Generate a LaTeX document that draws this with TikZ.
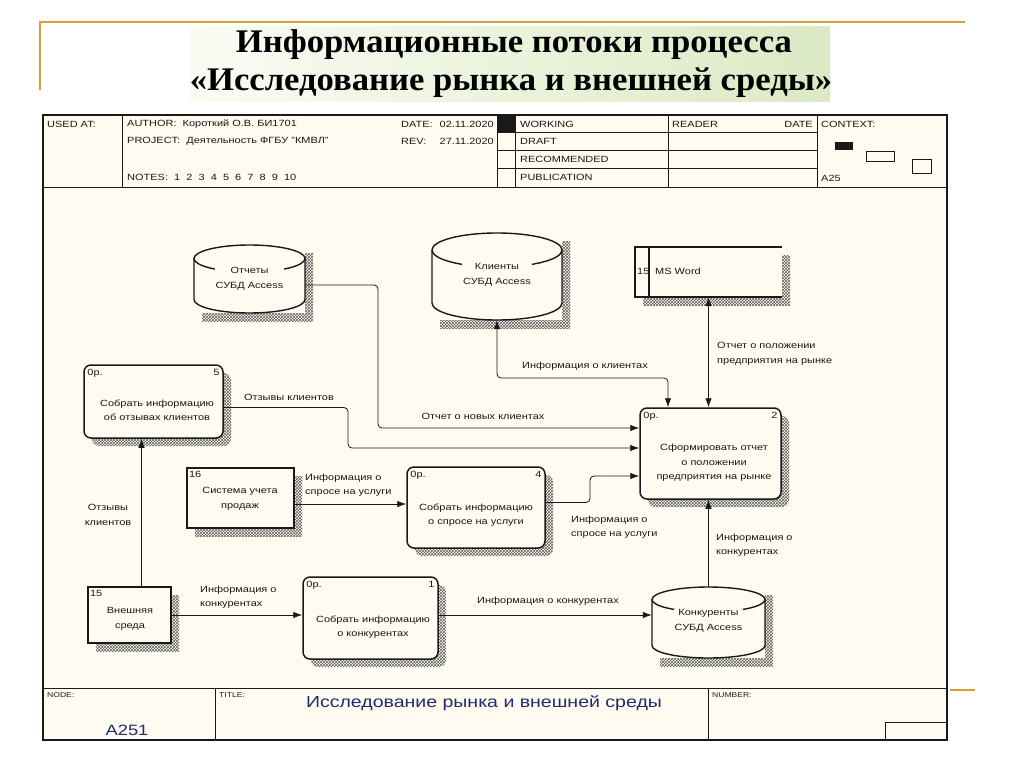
\documentclass[tikz,border=0pt]{standalone}
\usepackage{fontspec}
\setmainfont{Liberation Sans}[FakeStretch=1.22]
\newfontfamily\titlefont{Liberation Serif}[FakeStretch=1.05]
\usetikzlibrary{arrows.meta,shadows,patterns}
\definecolor{paper}{RGB}{255,251,240}
\definecolor{gold}{RGB}{214,160,48}
\definecolor{bandLeft}{RGB}{250,252,244}
\definecolor{bandRight}{RGB}{220,233,196}
\definecolor{inkNavy}{RGB}{32,44,112}
\definecolor{hatch}{RGB}{95,95,95}
\definecolor{ink}{RGB}{25,25,25}

\tikzset{
  shadowed/.style={general shadow={shadow xshift=8pt, shadow yshift=-8pt, pattern=crosshatch, pattern color=hatch}},
  proc/.style={draw=ink, line width=1.5pt, rounded corners=7pt, fill=paper, inner sep=0pt, shadowed},
  ext/.style={draw=ink, line width=2.2pt, fill=paper, inner sep=0pt, shadowed},
  storebox/.style={fill=paper, inner sep=0pt, shadowed},
  cylline/.style={draw=ink, line width=1.4pt},
  grid/.style={draw=ink, line width=0.8pt},
  lbl/.style={font=\fontsize{9}{14.5}\selectfont, inner sep=0pt, text=ink},
  tag/.style={font=\fontsize{9}{10}\selectfont, inner sep=0pt, text=ink},
  head/.style={font=\fontsize{9}{10}\selectfont, inner sep=0pt, anchor=west, text=ink},
  foot/.style={font=\fontsize{7}{8}\selectfont, inner sep=0pt, anchor=west, text=ink},
  titletext/.style={font=\titlefont\bfseries\fontsize{33}{38}\selectfont, inner sep=0pt},
  flow/.style={-{Latex[length=9pt,width=6.5pt]}, draw=ink, line width=0.8pt, rounded corners=4pt},
  twoway/.style={{Latex[length=9pt,width=6.5pt]}-{Latex[length=9pt,width=6.5pt]}, draw=ink, line width=0.8pt, rounded corners=4pt}
}

\newcommand{\dbcyl}[5]{%
  \pgfmathsetmacro{\cylcx}{(#1+#3)/2}%
  \pgfmathsetmacro{\cylrx}{(#3-#1)/2}%
  \draw[cylline] (#1,#2+#5) -- (#1,#4-#5) arc[start angle=180, end angle=360, x radius=\cylrx pt, y radius=#5pt] -- (#3,#2+#5);
  \draw[cylline] (\cylcx,#2+#5) ellipse[x radius=\cylrx pt, y radius=#5pt];
}

\begin{document}
\begin{tikzpicture}[x=1pt, y=-1pt]
  \useasboundingbox (0,0) rectangle (1024,767);
  \fill[white] (0,0) rectangle (1024,767);

  % slide
  \draw[gold, line width=1.6pt] (40,90) -- (40,22) -- (965,22);
  \draw[gold, line width=1.6pt] (950,690) -- (975,690);
  \shade[left color=bandLeft, right color=bandRight] (190,27) rectangle (830,102);
  \node[titletext] (title1) at (514,45) {Информационные потоки процесса};
  \node[titletext] (title2) at (511,83) {«Исследование рынка и внешней среды»};

  % form
  \filldraw[fill=paper, draw=ink, line width=1.2pt] (43,115) rectangle (947,740);
  \draw[grid] (43,187) -- (947,187);
  \draw[grid] (43,688) -- (947,688);
  \draw[grid] (122,115) -- (122,187);
  \foreach \x in {497,515,668,817} \draw[grid] (\x,115) -- (\x,187);
  \foreach \y in {132,150,168} \draw[grid] (497,\y) -- (817,\y);
  \fill[ink] (497,115) rectangle (515,132);
  \draw[grid] (215,688) -- (215,740);
  \draw[grid] (708,688) -- (708,740);
  \draw[grid] (885,740) -- (885,722) -- (947,722);
  \fill[ink] (835,142) rectangle (853,150);
  \draw[grid] (866,151) rectangle (894,161);
  \draw[grid] (912,159) rectangle (931,173);

  \node[head] (usedAt) at (47,124) {USED AT:};
  \node[head] (author) at (127,124) {AUTHOR:\ \ Короткий О.В. БИ1701};
  \node[head] (project) at (127,141) {PROJECT:\ \ Деятельность ФГБУ "КМВЛ"};
  \node[head] (notes) at (127,177) {NOTES:\ \ 1\ \ 2\ \ 3\ \ 4\ \ 5\ \ 6\ \ 7\ \ 8\ \ 9\ \ 10};
  \node[head] (dateLbl) at (401,124) {DATE:};
  \node[head, anchor=east] (dateVal) at (494,124) {02.11.2020};
  \node[head] (revLbl) at (401,141) {REV:};
  \node[head, anchor=east] (revVal) at (494,141) {27.11.2020};
  \node[head] (working) at (520,124) {WORKING};
  \node[head] (draft) at (520,141) {DRAFT};
  \node[head] (recommended) at (520,159) {RECOMMENDED};
  \node[head] (publication) at (520,177) {PUBLICATION};
  \node[head] (reader) at (672,124) {READER};
  \node[head, anchor=east] (readerDate) at (813,124) {DATE};
  \node[head] (context) at (821,124) {CONTEXT:};
  \node[head] (ctxNode) at (821,178) {A25};

  \node[foot] (nodeLbl) at (47,695) {NODE:};
  \node[foot] (titleLbl) at (219,695) {TITLE:};
  \node[foot] (numberLbl) at (712,695) {NUMBER:};
  \node[font=\fontsize{15}{17}\selectfont, text=inkNavy, inner sep=0pt] (nodeVal) at (127,730) {A251};
  \node[font=\fontsize{16}{18}\selectfont, text=inkNavy, inner sep=0pt] (titleVal) at (484,703) {Исследование рынка и внешней среды};

  % data stores
  \node[storebox, minimum width=111pt, minimum height=68pt] (otch) at (249.5,279) {};
  \dbcyl{194}{245}{305}{313}{13.5}
  \node[lbl, align=center, fill=paper, inner sep=1pt] (otchT) at (249.5,279) {Отчеты\\СУБД Access};

  \node[storebox, minimum width=130pt, minimum height=87pt] (kl) at (497,276.5) {};
  \dbcyl{432}{233}{562}{320}{17}
  \node[lbl, align=center, fill=paper, inner sep=1pt] (klT) at (497,275) {Клиенты\\СУБД Access};

  \node[storebox, minimum width=113pt, minimum height=71pt] (konk) at (708.5,622.5) {};
  \dbcyl{652}{587}{765}{658}{12.5}
  \node[lbl, align=center, fill=paper, inner sep=1pt] (konkT) at (708.5,621) {Конкуренты\\СУБД Access};

  \node[storebox, minimum width=147pt, minimum height=50pt] (ms) at (708.5,272) {};
  \draw[cylline] (782,247) -- (635,247) -- (635,297) -- (782,297);
  \draw[cylline] (649,247) -- (649,297);
  \node[tag, anchor=west] (msNum) at (637,271) {15};
  \node[tag, anchor=west] (msT) at (655,271) {MS Word};

  % activities
  \node[proc, minimum width=139pt, minimum height=73pt] (b5) at (153.5,401.5) {};
  \node[lbl, align=center] (b5T) at (157,410) {Собрать информацию\\об отзывах клиентов};
  \node[tag, anchor=north west] (b5c) at ([shift={(4pt,-5pt)}]b5.north west) {0р.};
  \node[tag, anchor=north east] (b5n) at ([shift={(-4pt,-5pt)}]b5.north east) {5};

  \node[proc, minimum width=141pt, minimum height=91pt] (b2) at (710.5,453.5) {};
  \node[lbl, align=center] (b2T) at (714,463) {Сформировать отчет\\о положении\\предприятия на рынке};
  \node[tag, anchor=north west] (b2c) at ([shift={(4pt,-5pt)}]b2.north west) {0р.};
  \node[tag, anchor=north east] (b2n) at ([shift={(-4pt,-5pt)}]b2.north east) {2};

  \node[proc, minimum width=138pt, minimum height=81pt] (b4) at (476,507.5) {};
  \node[lbl, align=center] (b4T) at (476,515) {Собрать информацию\\о спросе на услуги};
  \node[tag, anchor=north west] (b4c) at ([shift={(4pt,-5pt)}]b4.north west) {0р.};
  \node[tag, anchor=north east] (b4n) at ([shift={(-4pt,-5pt)}]b4.north east) {4};

  \node[proc, minimum width=135pt, minimum height=82pt] (b1) at (370.5,618) {};
  \node[lbl, align=center] (b1T) at (373,627) {Собрать информацию\\о конкурентах};
  \node[tag, anchor=north west] (b1c) at ([shift={(4pt,-5pt)}]b1.north west) {0р.};
  \node[tag, anchor=north east] (b1n) at ([shift={(-4pt,-5pt)}]b1.north east) {1};

  % external entities
  \node[ext, minimum width=107pt, minimum height=60pt] (e16) at (240.5,498) {};
  \node[tag, anchor=north west] (e16n) at ([shift={(3pt,-4pt)}]e16.north west) {16};
  \node[lbl, align=center] (e16T) at (240,499) {Система учета\\продаж};

  \node[ext, minimum width=83pt, minimum height=56pt] (e15) at (129.5,615) {};
  \node[tag, anchor=north west] (e15n) at ([shift={(3pt,-4pt)}]e15.north west) {15};
  \node[lbl, align=center] (e15T) at (130,619) {Внешняя\\среда};

  % flows
  \coordinate (bendA) at (378,428);
  \coordinate (bendB) at (348,448);
  \coordinate (bendC) at (590,476);
  \coordinate (bendD) at (668,378);
  \draw[flow] ([yshift=-6pt]otch.east) -| (bendA) -- (bendA -| b2.west);
  \draw[flow] ([yshift=-6pt]b5.east) -| (bendB) -- (bendB -| b2.west);
  \draw[flow] ([yshift=5pt]b4.east) -| (bendC) -- (bendC -| b2.west);
  \draw[twoway] (kl.south) |- (bendD) -- (bendD |- b2.north);
  \draw[twoway] (b2.north -| ms.south) -- (ms.south);
  \draw[flow] ([yshift=-6pt]e16.east) -- ([yshift=-6pt]e16.east -| b4.west);
  \draw[flow] ([xshift=12pt]e15.north) -- ([xshift=12pt]e15.north |- b5.south);
  \draw[flow] (e15.east) -- (e15.east -| b1.west);
  \draw[flow] ([yshift=3pt]b1.east) -- ([yshift=3pt]b1.east -| konk.west);
  \draw[flow] (konk.north) -- (konk.north |- b2.south);

  \node[lbl] (lNew) at (483,416) {Отчет о новых клиентах};
  \node[lbl] (lRev) at (289,397) {Отзывы клиентов};
  \node[lbl, align=left, anchor=west] (lDem) at (571,527) {Информация о\\спросе на услуги};
  \node[lbl] (lCli) at (585,366) {Информация о клиентах};
  \node[lbl, align=left, anchor=west] (lRep) at (717,354) {Отчет о положении\\предприятия на рынке};
  \node[lbl, align=left, anchor=west] (lSales) at (305,485) {Информация о\\спросе на услуги};
  \node[lbl, align=center] (lRev2) at (108,515) {Отзывы\\клиентов};
  \node[lbl, align=left, anchor=west] (lComp) at (200,597) {Информация о\\конкурентах};
  \node[lbl] (lComp2) at (548,601) {Информация о конкурентах};
  \node[lbl, align=left, anchor=west] (lComp3) at (716,545) {Информация о\\конкурентах};
\end{tikzpicture}
\end{document}
